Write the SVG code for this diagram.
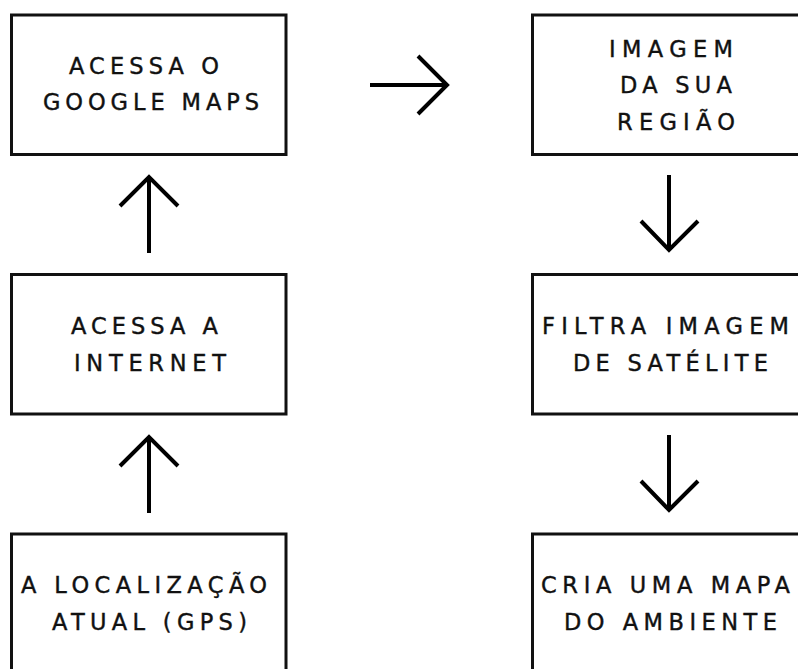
<svg xmlns="http://www.w3.org/2000/svg" width="798" height="669" viewBox="0 0 798 669">
  <style>
    .box { fill: #ffffff; stroke: #111111; stroke-width: 3; }
    .lbl { font-family: "DejaVu Sans", "Liberation Sans", sans-serif; font-size: 22.5px; fill: #111111; stroke: #111111; stroke-width: 0.4; }
    .arrow { fill: none; stroke: #000000; stroke-width: 4; stroke-linejoin: miter; stroke-linecap: butt; }
  </style>
  <rect width="798" height="669" fill="#ffffff"/>

  <g id="node-google-maps">
    <rect class="box" x="11.5" y="15" width="274.5" height="139.5"/>
    <text class="lbl" x="69" y="74" textLength="150" lengthAdjust="spacing">ACESSA O</text>
    <text class="lbl" x="43" y="110" textLength="216" lengthAdjust="spacing">GOOGLE MAPS</text>
  </g>

  <g id="node-internet">
    <rect class="box" x="11.5" y="274.5" width="274.5" height="139.5"/>
    <text class="lbl" x="71" y="334" textLength="147" lengthAdjust="spacing">ACESSA A</text>
    <text class="lbl" x="74" y="371" textLength="152" lengthAdjust="spacing">INTERNET</text>
  </g>

  <g id="node-localizacao">
    <rect class="box" x="11.5" y="534" width="274.5" height="150"/>
    <text class="lbl" x="21" y="593" textLength="246" lengthAdjust="spacing">A LOCALIZAÇÃO</text>
    <text class="lbl" x="52" y="630" textLength="195" lengthAdjust="spacing">ATUAL (GPS)</text>
  </g>

  <g id="node-imagem-regiao">
    <rect class="box" x="532.5" y="15" width="280" height="139.5"/>
    <text class="lbl" x="609" y="57" textLength="124" lengthAdjust="spacing">IMAGEM</text>
    <text class="lbl" x="620" y="93" textLength="112" lengthAdjust="spacing">DA SUA</text>
    <text class="lbl" x="617" y="130" textLength="118" lengthAdjust="spacing">REGIÃO</text>
  </g>

  <g id="node-filtra-imagem">
    <rect class="box" x="532.5" y="274.5" width="280" height="139.5"/>
    <text class="lbl" x="542" y="334" textLength="247" lengthAdjust="spacing">FILTRA IMAGEM</text>
    <text class="lbl" x="573" y="371" textLength="195" lengthAdjust="spacing">DE SATÉLITE</text>
  </g>

  <g id="node-cria-mapa">
    <rect class="box" x="532.5" y="534" width="280" height="150"/>
    <text class="lbl" x="541" y="593" textLength="249" lengthAdjust="spacing">CRIA UMA MAPA</text>
    <text class="lbl" x="564" y="630" textLength="213" lengthAdjust="spacing">DO AMBIENTE</text>
  </g>

  <g id="connectors">
    <!-- up: localização -> internet -->
    <path class="arrow" d="M149 513 V438 M120 466 L149 437 L178 466"/>
    <!-- up: internet -> google maps -->
    <path class="arrow" d="M149 253 V178 M120 206 L149 177 L178 206"/>
    <!-- right: google maps -> imagem da região -->
    <path class="arrow" d="M370 85 H446 M418 56 L447 85 L418 114"/>
    <!-- down: imagem -> filtra -->
    <path class="arrow" d="M669 175 V250 M641 221 L669 250 L698 221"/>
    <!-- down: filtra -> cria mapa -->
    <path class="arrow" d="M669 435 V510 M641 481 L669 510 L698 481"/>
  </g>
</svg>
